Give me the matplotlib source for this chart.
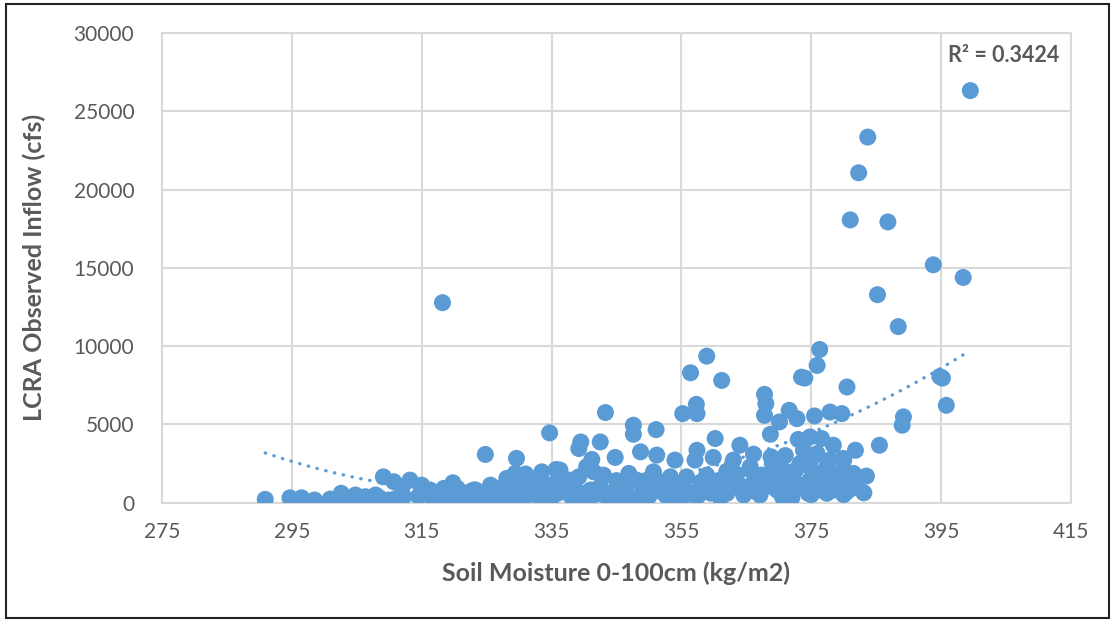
import numpy as np
import matplotlib
matplotlib.use("Agg")
import matplotlib.pyplot as plt
from matplotlib.patches import Rectangle

# soil moisture (kg/m2) and observed inflow (cfs)
soil = [
    290.9, 294.7, 296.5, 298.5, 300.9, 302.6, 303.2, 304.8, 306.3, 307.9, 309.1, 310.7,
    309.9, 312.2, 313.2, 312.0, 315.0, 316.3, 316.8, 318.4, 319.8, 318.9, 321.0, 323.3,
    324.8, 325.6, 326.6, 328.1, 329.6, 329.4, 331.0, 330.7, 328.6, 333.5, 335.7, 334.7,
    333.3, 336.3, 337.4, 325.1, 323.5, 318.2,
    305.5, 308.5, 311.0, 314.5, 317.5, 320.0, 322.0, 324.0, 327.0, 329.0, 331.5, 332.5,
    334.0, 335.0, 320.5, 322.5, 327.5, 330.0, 332.0, 334.5,
    343.3, 339.5, 339.2, 342.5, 347.6, 347.6, 351.1, 355.2, 357.3, 357.4, 348.7, 344.8,
    341.2, 340.4, 351.2, 354.0, 357.4, 357.1, 360.2, 359.9, 336.3, 337.9, 343.0, 346.9,
    350.7, 353.3, 355.8, 358.9, 338.6, 341.2, 345.3, 348.9, 352.0, 356.9, 342.5, 346.6,
    349.7, 354.3, 358.9, 337.4, 339.2, 341.5, 348.1, 356.4, 358.9, 361.2,
    340.0, 344.0, 347.0, 350.0, 353.0, 355.0, 339.0, 344.0, 351.0, 356.0, 345.0, 352.0,
    367.8, 368.0, 367.8, 371.6, 372.8, 370.1, 375.5, 377.9, 379.7, 380.5, 373.5, 374.0,
    375.9, 376.3, 368.7, 364.0, 366.1, 368.8, 373.0, 374.8, 376.6, 378.4, 380.0, 373.8,
    363.0, 365.6, 367.4, 370.7, 373.3, 375.3, 377.4, 379.5, 359.9, 362.0, 364.6, 367.1,
    369.7, 371.5, 373.3, 375.3, 377.4, 379.5, 360.9, 368.7, 363.0,
    389.2, 389.0, 385.5, 381.8, 375.9, 377.9, 372.6, 374.8, 377.4, 381.5, 383.5, 371.4,
    373.8, 381.2, 383.1, 374.8, 376.3, 379.9,
    399.5, 383.7, 382.3, 381.0, 386.8, 393.8, 398.4, 385.2, 388.4, 395.2, 394.8, 395.8,
    361.0, 365.0, 370.0, 372.0, 376.0, 378.0, 380.0, 366.0, 362.0, 369.0, 371.0,
    # dense low cluster
    316.0, 319.0, 321.5, 324.5, 326.0, 328.0, 330.5, 333.0, 336.0, 338.0, 341.0, 343.0,
    346.0, 349.0, 352.5, 354.5, 357.5, 359.5, 362.5, 364.0, 366.5, 368.0, 370.5, 372.5,
    374.5, 376.5, 378.5, 380.5, 382.0, 363.5, 367.0, 371.0, 375.0, 379.0, 360.0, 358.0,
    355.5, 353.5, 349.5, 346.5, 342.0, 338.5, 335.5, 332.0, 327.5, 323.0, 365.5, 369.5,
]
inflow = [
    200, 300, 300, 160, 220, 590, 160, 480, 370, 480, 1640, 1330,
    160, 370, 1430, 1000, 1110, 800, 160, 900, 1260, 370, 590, 800,
    3070, 1110, 160, 1540, 2820, 1860, 1820, 270, 690, 1960, 2110, 4450,
    270, 1010, 1430, 370, 100, 12770,
    250, 300, 250, 400, 450, 300, 450, 550, 600, 400, 800, 500,
    700, 300, 900, 700, 1000, 1200, 1300, 1100,
    5750, 3870, 3450, 3870, 4940, 4360, 4660, 5680, 6270, 5680, 3240, 2880,
    2750, 2280, 3030, 2710, 3340, 2710, 4090, 2880, 2070, 1430, 1750, 1860,
    1960, 1640, 1640, 1750, 480, 370, 480, 590, 690, 480, 1010, 1110,
    1010, 1010, 800, 1010, 1640, 1960, 1430, 8290, 9350, 7800,
    300, 250, 300, 400, 300, 250, 700, 600, 900, 700, 1400, 1300,
    6910, 6320, 5570, 5890, 5360, 5150, 5530, 5780, 5680, 7380, 8010, 7950,
    8760, 9780, 4360, 3660, 3090, 2920, 4030, 4190, 4090, 3660, 2710, 3340,
    1430, 2280, 1750, 2070, 2500, 2920, 2280, 1860, 800, 590, 480, 480,
    800, 590, 1010, 1430, 590, 1220, 1430, 1430, 2710,
    5470, 4940, 3660, 3340, 3130, 2710, 2070, 2280, 1860, 1860, 1690, 690,
    1010, 900, 620, 1430, 1860, 2820,
    26320, 23350, 21070, 18060, 17930, 15190, 14380, 13280, 11240, 7950, 8050, 6210,
    300, 900, 1100, 300, 800, 1000, 500, 1200, 2000, 2500, 3000,
    500, 600, 350, 400, 700, 300, 500, 900, 600, 400, 800, 500,
    700, 400, 500, 800, 400, 600, 900, 1100, 700, 1000, 400, 1300,
    600, 1100, 800, 700, 1300, 1800, 1600, 1200, 500, 900, 1200, 1300,
    900, 1200, 1400, 1100, 700, 600, 1200, 1300, 1000, 800, 2100, 1700,
]
r2_label = "R² = 0.3424"
x_ticks = [275, 295, 315, 335, 355, 375, 395, 415]
y_ticks = [0, 5000, 10000, 15000, 20000, 25000, 30000]

blue = "#5b9bd5"
grey_txt = "#595959"
plt.rcParams["font.family"] = ["Lato", "DejaVu Sans"]

x = np.array(soil)
y = np.array(inflow)

fig = plt.figure(figsize=(11.15, 6.22), dpi=100)
ax = fig.add_axes([0.1453, 0.1921, 0.8152, 0.7548])

ax.scatter(x, y, s=150, color=blue, edgecolors="none", zorder=3)

# 2nd order polynomial trendline, like the Excel one
coef = np.polyfit(x, y, 2)
xt = np.linspace(x.min(), x.max(), 200)
ax.plot(xt, np.polyval(coef, xt), color=blue, lw=2.4,
        linestyle=(0, (0.1, 2.6)), dash_capstyle="round", zorder=4)

ax.set_xlim(275, 415)
ax.set_ylim(0, 30000)
ax.set_xticks(x_ticks)
ax.set_yticks(y_ticks)
ax.grid(True, color="#d9d9d9", lw=1.5, zorder=0)
ax.set_axisbelow(True)
for s in ax.spines.values():
    s.set_color("#d9d9d9")
    s.set_linewidth(1.5)
ax.tick_params(length=0, labelsize=15, colors=grey_txt)
ax.tick_params(axis="x", pad=14)
ax.tick_params(axis="y", pad=20)

ax.set_xlabel("Soil Moisture 0-100cm (kg/m2)", fontsize=18, fontweight="bold",
              color=grey_txt, labelpad=14)
ax.set_ylabel("LCRA Observed Inflow (cfs)", fontsize=18, fontweight="bold",
              color=grey_txt, labelpad=20)

ax.text(0.926, 0.953, r2_label, transform=ax.transAxes, ha="center", va="center",
        fontsize=15.5, fontweight="bold", color=grey_txt)

fig.patches.append(Rectangle((0.005, 0.006), 0.99, 0.988, transform=fig.transFigure,
                             fill=False, edgecolor="#222222", lw=1.5))

fig.savefig("out.png", dpi=100)
